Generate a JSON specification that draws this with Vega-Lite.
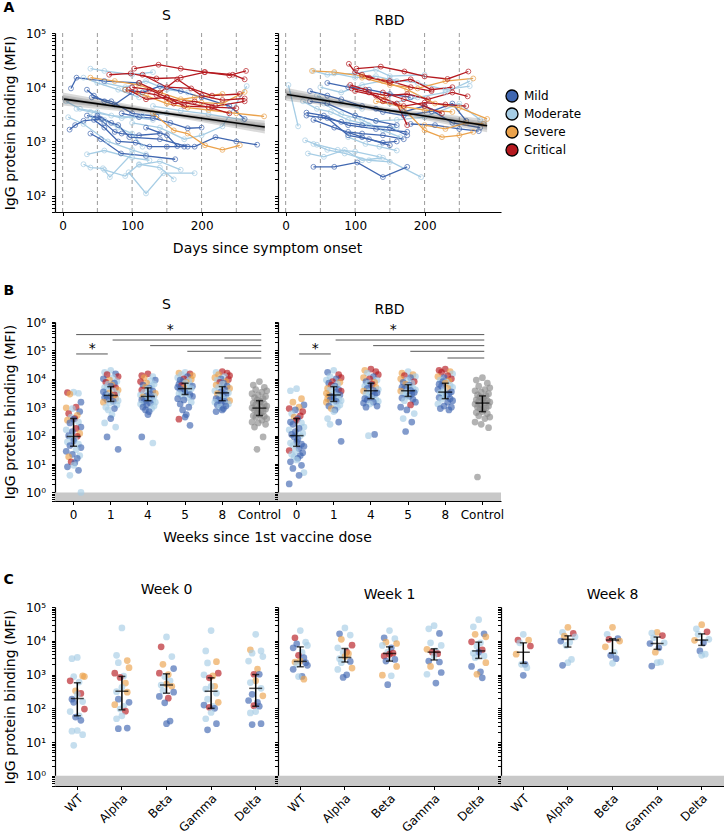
{
"$schema":"https://vega.github.io/schema/vega-lite/v6.json",
"padding":{"left":3,"top":1,"right":0,"bottom":3},
"background":"white",
"config":{
 "font":"DejaVu Sans",
 "view":{"stroke":null},
 "axis":{"labelFont":"DejaVu Sans","titleFont":"DejaVu Sans","labelFontSize":12,"titleFontSize":14,"titleFontWeight":"normal","labelColor":"black","titleColor":"black","domainColor":"black","tickColor":"black","domainWidth":1.2,"tickWidth":1,"tickSize":3.5,"labelPadding":5,"titlePadding":6,"grid":false,"labelOverlap":false,"labelFlush":false,"zindex":1},
 "axisX":{"titlePadding":10},
 "axisY":{"labelPadding":6,"titlePadding":8},
 "title":{"font":"DejaVu Sans","fontSize":14,"fontWeight":"normal","color":"black","offset":4.5}
},
"spacing":28,
"resolve":{"scale":{"xOffset":"independent","fill":"independent","stroke":"independent"}},
"datasets":{
"vl":[{"d":0},{"d":50},{"d":100},{"d":150},{"d":200},{"d":250}],
"lod":[{"lo":0.5,"hi":1}],
"fit":[{"p":"S","d":2,"v":6030},{"p":"S","d":291,"v":1845},{"p":"R","d":2,"v":7345},{"p":"R","d":290,"v":1950}],
"band":[
{"p":"S","k":1,"d":0,"v":4610,"v2":8010},{"p":"S","k":1,"d":145,"v":3027,"v2":3724},{"p":"S","k":1,"d":291,"v":1400,"v2":2432},
{"p":"S","k":2,"d":0,"v":5148,"v2":7171},{"p":"S","k":2,"d":145,"v":3155,"v2":3573},{"p":"S","k":2,"d":291,"v":1563,"v2":2178},
{"p":"S","k":3,"d":0,"v":5594,"v2":6600},{"p":"S","k":3,"d":145,"v":3254,"v2":3463},{"p":"S","k":3,"d":291,"v":1698,"v2":2004},
{"p":"R","k":1,"d":0,"v":5623,"v2":9772},{"p":"R","k":1,"d":145,"v":3428,"v2":4217},{"p":"R","k":1,"d":290,"v":1479,"v2":2570},
{"p":"R","k":2,"d":0,"v":6281,"v2":8750},{"p":"R","k":2,"d":145,"v":3573,"v2":4046},{"p":"R","k":2,"d":290,"v":1652,"v2":2301},
{"p":"R","k":3,"d":0,"v":6823,"v2":8054},{"p":"R","k":3,"d":145,"v":3686,"v2":3923},{"p":"R","k":3,"d":290,"v":1795,"v2":2118}],
"aS":[
{"i":"l1","s":"Mo","d":40,"v":22000},{"i":"l1","s":"Mo","d":60,"v":20000},{"i":"l1","s":"Mo","d":100,"v":17000},{"i":"l1","s":"Mo","d":130,"v":19000},
{"i":"l2","s":"Mo","d":30,"v":380},{"i":"l2","s":"Mo","d":40,"v":330},{"i":"l2","s":"Mo","d":58,"v":320},{"i":"l2","s":"Mo","d":68,"v":220},{"i":"l2","s":"Mo","d":100,"v":600},
{"i":"l3","s":"Mo","d":35,"v":580},{"i":"l3","s":"Mo","d":60,"v":680},{"i":"l3","s":"Mo","d":100,"v":500},{"i":"l3","s":"Mo","d":125,"v":450},
{"i":"l4","s":"Mo","d":40,"v":2800},{"i":"l4","s":"Mo","d":60,"v":2500},{"i":"l4","s":"Mo","d":80,"v":1800},{"i":"l4","s":"Mo","d":100,"v":1400},{"i":"l4","s":"Mo","d":115,"v":800},
{"i":"l5","s":"Mo","d":20,"v":4000},{"i":"l5","s":"Mo","d":40,"v":3500},{"i":"l5","s":"Mo","d":70,"v":3000},{"i":"l5","s":"Mo","d":100,"v":2800},{"i":"l5","s":"Mo","d":130,"v":2500},
{"i":"l6","s":"Mo","d":60,"v":300},{"i":"l6","s":"Mo","d":90,"v":230},{"i":"l6","s":"Mo","d":110,"v":380},{"i":"l6","s":"Mo","d":140,"v":330},{"i":"l6","s":"Mo","d":160,"v":200},
{"i":"l7","s":"Mo","d":95,"v":270},{"i":"l7","s":"Mo","d":120,"v":110},{"i":"l7","s":"Mo","d":145,"v":260},{"i":"l7","s":"Mo","d":190,"v":260},
{"i":"l8","s":"Mo","d":60,"v":12000},{"i":"l8","s":"Mo","d":90,"v":10000},{"i":"l8","s":"Mo","d":120,"v":13000},{"i":"l8","s":"Mo","d":150,"v":9000},{"i":"l8","s":"Mo","d":180,"v":8000},
{"i":"l9","s":"Mo","d":5,"v":5500},{"i":"l9","s":"Mo","d":25,"v":4000},{"i":"l9","s":"Mo","d":50,"v":3500},{"i":"l9","s":"Mo","d":85,"v":2700},{"i":"l9","s":"Mo","d":115,"v":3000},{"i":"l9","s":"Mo","d":150,"v":3300},
{"i":"l10","s":"Mo","d":110,"v":370},{"i":"l10","s":"Mo","d":140,"v":430},{"i":"l10","s":"Mo","d":170,"v":300},
{"i":"l11","s":"Mo","d":100,"v":2200},{"i":"l11","s":"Mo","d":140,"v":1800},{"i":"l11","s":"Mo","d":175,"v":1100},{"i":"l11","s":"Mo","d":200,"v":1300},{"i":"l11","s":"Mo","d":230,"v":1900},{"i":"l11","s":"Mo","d":265,"v":10500},
{"i":"l12","s":"Mo","d":30,"v":15000},{"i":"l12","s":"Mo","d":50,"v":12000},{"i":"l12","s":"Mo","d":80,"v":9000},{"i":"l12","s":"Mo","d":110,"v":6500},
{"i":"l13","s":"Mo","d":8,"v":2800},{"i":"l13","s":"Mo","d":30,"v":2100},{"i":"l13","s":"Mo","d":65,"v":1000},{"i":"l13","s":"Mo","d":100,"v":700},{"i":"l13","s":"Mo","d":120,"v":580},
{"i":"l14","s":"Mo","d":130,"v":4500},{"i":"l14","s":"Mo","d":170,"v":3700},{"i":"l14","s":"Mo","d":210,"v":3200},{"i":"l14","s":"Mo","d":260,"v":2500},
{"i":"m1","s":"Mi","d":10,"v":1650},{"i":"m1","s":"Mi","d":18,"v":2000},{"i":"m1","s":"Mi","d":30,"v":2400},{"i":"m1","s":"Mi","d":55,"v":2600},
{"i":"m2","s":"Mi","d":12,"v":9500},{"i":"m2","s":"Mi","d":20,"v":15000},{"i":"m2","s":"Mi","d":60,"v":13000},{"i":"m2","s":"Mi","d":110,"v":12000},
{"i":"m3","s":"Mi","d":35,"v":9000},{"i":"m3","s":"Mi","d":45,"v":7000},{"i":"m3","s":"Mi","d":60,"v":5500},{"i":"m3","s":"Mi","d":75,"v":4800},{"i":"m3","s":"Mi","d":100,"v":8000},
{"i":"m4","s":"Mi","d":35,"v":3000},{"i":"m4","s":"Mi","d":50,"v":2800},{"i":"m4","s":"Mi","d":60,"v":2200},{"i":"m4","s":"Mi","d":75,"v":1500},{"i":"m4","s":"Mi","d":85,"v":1400},{"i":"m4","s":"Mi","d":110,"v":1300},{"i":"m4","s":"Mi","d":140,"v":1400},
{"i":"m5","s":"Mi","d":45,"v":2500},{"i":"m5","s":"Mi","d":60,"v":1800},{"i":"m5","s":"Mi","d":80,"v":1000},{"i":"m5","s":"Mi","d":105,"v":950},{"i":"m5","s":"Mi","d":125,"v":800},{"i":"m5","s":"Mi","d":150,"v":800},{"i":"m5","s":"Mi","d":175,"v":800},
{"i":"m6","s":"Mi","d":40,"v":1400},{"i":"m6","s":"Mi","d":55,"v":1100},{"i":"m6","s":"Mi","d":84,"v":600},{"i":"m6","s":"Mi","d":120,"v":540},{"i":"m6","s":"Mi","d":162,"v":470},
{"i":"m7","s":"Mi","d":85,"v":3300},{"i":"m7","s":"Mi","d":110,"v":2800},{"i":"m7","s":"Mi","d":130,"v":2700},{"i":"m7","s":"Mi","d":155,"v":2200},{"i":"m7","s":"Mi","d":180,"v":1750},{"i":"m7","s":"Mi","d":200,"v":1800},
{"i":"m8","s":"Mi","d":120,"v":1800},{"i":"m8","s":"Mi","d":150,"v":1300},{"i":"m8","s":"Mi","d":165,"v":820},{"i":"m8","s":"Mi","d":190,"v":800},{"i":"m8","s":"Mi","d":220,"v":1200},{"i":"m8","s":"Mi","d":250,"v":1000},{"i":"m8","s":"Mi","d":280,"v":870},
{"i":"m9","s":"Mi","d":90,"v":9000},{"i":"m9","s":"Mi","d":115,"v":8000},{"i":"m9","s":"Mi","d":140,"v":10500},{"i":"m9","s":"Mi","d":170,"v":8500},{"i":"m9","s":"Mi","d":200,"v":6500},{"i":"m9","s":"Mi","d":240,"v":4500},{"i":"m9","s":"Mi","d":262,"v":2600},
{"i":"m10","s":"Mi","d":42,"v":6500},{"i":"m10","s":"Mi","d":70,"v":5500},{"i":"m10","s":"Mi","d":100,"v":3300},{"i":"m10","s":"Mi","d":135,"v":2900},
{"i":"m11","s":"Mi","d":50,"v":3000},{"i":"m11","s":"Mi","d":70,"v":2200},{"i":"m11","s":"Mi","d":80,"v":2000},{"i":"m11","s":"Mi","d":96,"v":1200},{"i":"m11","s":"Mi","d":140,"v":1100},{"i":"m11","s":"Mi","d":180,"v":800},
{"i":"o1","s":"Se","d":40,"v":15000},{"i":"o1","s":"Se","d":75,"v":13000},{"i":"o1","s":"Se","d":110,"v":11000},{"i":"o1","s":"Se","d":140,"v":8000},{"i":"o1","s":"Se","d":170,"v":6000},{"i":"o1","s":"Se","d":200,"v":5200},{"i":"o1","s":"Se","d":230,"v":5000},{"i":"o1","s":"Se","d":262,"v":8200},
{"i":"o2","s":"Se","d":130,"v":3300},{"i":"o2","s":"Se","d":160,"v":1600},{"i":"o2","s":"Se","d":180,"v":1400},{"i":"o2","s":"Se","d":205,"v":850},{"i":"o2","s":"Se","d":230,"v":700},{"i":"o2","s":"Se","d":255,"v":850},
{"i":"o3","s":"Se","d":90,"v":9000},{"i":"o3","s":"Se","d":120,"v":7000},{"i":"o3","s":"Se","d":150,"v":5000},{"i":"o3","s":"Se","d":180,"v":4200},{"i":"o3","s":"Se","d":210,"v":3800},{"i":"o3","s":"Se","d":250,"v":3300},{"i":"o3","s":"Se","d":290,"v":2900},
{"i":"o4","s":"Se","d":150,"v":5500},{"i":"o4","s":"Se","d":190,"v":6500},{"i":"o4","s":"Se","d":230,"v":7500},
{"i":"c1","s":"Cr","d":67,"v":17000},{"i":"c1","s":"Cr","d":98,"v":18000},{"i":"c1","s":"Cr","d":135,"v":14500},{"i":"c1","s":"Cr","d":170,"v":15000},{"i":"c1","s":"Cr","d":205,"v":19000},{"i":"c1","s":"Cr","d":245,"v":17000},{"i":"c1","s":"Cr","d":262,"v":14000},
{"i":"c2","s":"Cr","d":103,"v":22000},{"i":"c2","s":"Cr","d":138,"v":26000},{"i":"c2","s":"Cr","d":170,"v":22000},{"i":"c2","s":"Cr","d":204,"v":19000},{"i":"c2","s":"Cr","d":240,"v":16500},{"i":"c2","s":"Cr","d":264,"v":20000},
{"i":"c3","s":"Cr","d":100,"v":10000},{"i":"c3","s":"Cr","d":125,"v":9000},{"i":"c3","s":"Cr","d":150,"v":6500},{"i":"c3","s":"Cr","d":175,"v":5200},{"i":"c3","s":"Cr","d":210,"v":4300},{"i":"c3","s":"Cr","d":240,"v":3300},
{"i":"c4","s":"Cr","d":110,"v":12000},{"i":"c4","s":"Cr","d":140,"v":8000},{"i":"c4","s":"Cr","d":165,"v":14000},{"i":"c4","s":"Cr","d":200,"v":7000},{"i":"c4","s":"Cr","d":230,"v":5800},{"i":"c4","s":"Cr","d":262,"v":6200},
{"i":"c5","s":"Cr","d":105,"v":8500},{"i":"c5","s":"Cr","d":135,"v":7200},{"i":"c5","s":"Cr","d":160,"v":5000},{"i":"c5","s":"Cr","d":190,"v":5500},{"i":"c5","s":"Cr","d":220,"v":4500},{"i":"c5","s":"Cr","d":262,"v":5500},
{"i":"c6","s":"Cr","d":115,"v":17000},{"i":"c6","s":"Cr","d":150,"v":10000},{"i":"c6","s":"Cr","d":185,"v":9500},{"i":"c6","s":"Cr","d":215,"v":7000},{"i":"c6","s":"Cr","d":255,"v":7500},
{"i":"c7","s":"Cr","d":95,"v":9000},{"i":"c7","s":"Cr","d":120,"v":6000},{"i":"c7","s":"Cr","d":150,"v":6500},{"i":"c7","s":"Cr","d":175,"v":4500},{"i":"c7","s":"Cr","d":215,"v":4300},{"i":"c7","s":"Cr","d":250,"v":4100}],
"aR":[
{"i":"l1","s":"Mo","d":40,"v":20000},{"i":"l1","s":"Mo","d":60,"v":17000},{"i":"l1","s":"Mo","d":100,"v":18000},{"i":"l1","s":"Mo","d":130,"v":21000},{"i":"l1","s":"Mo","d":150,"v":16000},{"i":"l1","s":"Mo","d":200,"v":17000},
{"i":"l2","s":"Mo","d":4,"v":11000},{"i":"l2","s":"Mo","d":18,"v":1900},
{"i":"l3","s":"Mo","d":28,"v":1050},{"i":"l3","s":"Mo","d":45,"v":870},{"i":"l3","s":"Mo","d":75,"v":700},{"i":"l3","s":"Mo","d":100,"v":650},{"i":"l3","s":"Mo","d":135,"v":520},
{"i":"l4","s":"Mo","d":32,"v":600},{"i":"l4","s":"Mo","d":55,"v":520},{"i":"l4","s":"Mo","d":85,"v":700},{"i":"l4","s":"Mo","d":110,"v":450},{"i":"l4","s":"Mo","d":140,"v":500},{"i":"l4","s":"Mo","d":195,"v":220},
{"i":"l5","s":"Mo","d":50,"v":10000},{"i":"l5","s":"Mo","d":80,"v":8000},{"i":"l5","s":"Mo","d":110,"v":11000},{"i":"l5","s":"Mo","d":150,"v":14000},{"i":"l5","s":"Mo","d":190,"v":12000},{"i":"l5","s":"Mo","d":230,"v":9000},{"i":"l5","s":"Mo","d":265,"v":10500},
{"i":"l6","s":"Mo","d":55,"v":5000},{"i":"l6","s":"Mo","d":80,"v":3200},{"i":"l6","s":"Mo","d":110,"v":2500},{"i":"l6","s":"Mo","d":140,"v":1600},{"i":"l6","s":"Mo","d":165,"v":1200},
{"i":"l7","s":"Mo","d":25,"v":5500},{"i":"l7","s":"Mo","d":45,"v":4000},{"i":"l7","s":"Mo","d":65,"v":3500},{"i":"l7","s":"Mo","d":90,"v":2500},{"i":"l7","s":"Mo","d":120,"v":2000},{"i":"l7","s":"Mo","d":160,"v":1800},
{"i":"l8","s":"Mo","d":90,"v":1200},{"i":"l8","s":"Mo","d":115,"v":900},{"i":"l8","s":"Mo","d":135,"v":800},{"i":"l8","s":"Mo","d":160,"v":680},
{"i":"l9","s":"Mo","d":150,"v":5000},{"i":"l9","s":"Mo","d":190,"v":6500},{"i":"l9","s":"Mo","d":230,"v":8000},{"i":"l9","s":"Mo","d":265,"v":13000},
{"i":"l10","s":"Mo","d":100,"v":3000},{"i":"l10","s":"Mo","d":130,"v":2400},{"i":"l10","s":"Mo","d":160,"v":2500},{"i":"l10","s":"Mo","d":200,"v":2800},{"i":"l10","s":"Mo","d":250,"v":5000},{"i":"l10","s":"Mo","d":280,"v":2500},
{"i":"l11","s":"Mo","d":40,"v":900},{"i":"l11","s":"Mo","d":60,"v":700},{"i":"l11","s":"Mo","d":85,"v":600},{"i":"l11","s":"Mo","d":120,"v":450},{"i":"l11","s":"Mo","d":150,"v":420},
{"i":"l12","s":"Mo","d":70,"v":18000},{"i":"l12","s":"Mo","d":100,"v":15000},{"i":"l12","s":"Mo","d":130,"v":16000},{"i":"l12","s":"Mo","d":160,"v":13000},
{"i":"l13","s":"Mo","d":45,"v":7000},{"i":"l13","s":"Mo","d":60,"v":5500},{"i":"l13","s":"Mo","d":80,"v":5300},{"i":"l13","s":"Mo","d":110,"v":4000},
{"i":"m1","s":"Mi","d":40,"v":340},{"i":"m1","s":"Mi","d":70,"v":340},{"i":"m1","s":"Mi","d":103,"v":410},{"i":"m1","s":"Mi","d":140,"v":220},{"i":"m1","s":"Mi","d":175,"v":340},
{"i":"m2","s":"Mi","d":30,"v":3000},{"i":"m2","s":"Mi","d":60,"v":2700},{"i":"m2","s":"Mi","d":90,"v":1300},{"i":"m2","s":"Mi","d":120,"v":1100},{"i":"m2","s":"Mi","d":140,"v":950},{"i":"m2","s":"Mi","d":160,"v":1000},
{"i":"m3","s":"Mi","d":60,"v":12000},{"i":"m3","s":"Mi","d":90,"v":10000},{"i":"m3","s":"Mi","d":120,"v":9000},{"i":"m3","s":"Mi","d":150,"v":7500},{"i":"m3","s":"Mi","d":180,"v":6500},
{"i":"m4","s":"Mi","d":35,"v":8500},{"i":"m4","s":"Mi","d":60,"v":7000},{"i":"m4","s":"Mi","d":80,"v":6000},{"i":"m4","s":"Mi","d":110,"v":4500},{"i":"m4","s":"Mi","d":140,"v":3500},{"i":"m4","s":"Mi","d":170,"v":3000},{"i":"m4","s":"Mi","d":210,"v":3600},{"i":"m4","s":"Mi","d":240,"v":5000},{"i":"m4","s":"Mi","d":260,"v":2400},
{"i":"m5","s":"Mi","d":30,"v":3400},{"i":"m5","s":"Mi","d":55,"v":3000},{"i":"m5","s":"Mi","d":90,"v":2000},{"i":"m5","s":"Mi","d":130,"v":1700},{"i":"m5","s":"Mi","d":175,"v":1500},
{"i":"m6","s":"Mi","d":40,"v":2500},{"i":"m6","s":"Mi","d":70,"v":1800},{"i":"m6","s":"Mi","d":110,"v":1200},{"i":"m6","s":"Mi","d":150,"v":850},
{"i":"m7","s":"Mi","d":35,"v":5500},{"i":"m7","s":"Mi","d":60,"v":5000},{"i":"m7","s":"Mi","d":100,"v":3000},{"i":"m7","s":"Mi","d":130,"v":2400},{"i":"m7","s":"Mi","d":160,"v":2000},
{"i":"m8","s":"Mi","d":130,"v":4000},{"i":"m8","s":"Mi","d":170,"v":3500},{"i":"m8","s":"Mi","d":200,"v":4500},{"i":"m8","s":"Mi","d":240,"v":2200},{"i":"m8","s":"Mi","d":280,"v":1800},
{"i":"m9","s":"Mi","d":90,"v":1500},{"i":"m9","s":"Mi","d":110,"v":1400},{"i":"m9","s":"Mi","d":140,"v":1300},{"i":"m9","s":"Mi","d":170,"v":1100},
{"i":"m10","s":"Mi","d":180,"v":2100},{"i":"m10","s":"Mi","d":215,"v":2000},{"i":"m10","s":"Mi","d":250,"v":1700},{"i":"m10","s":"Mi","d":278,"v":1550},
{"i":"m11","s":"Mi","d":50,"v":2800},{"i":"m11","s":"Mi","d":80,"v":2300},{"i":"m11","s":"Mi","d":110,"v":2000},{"i":"m11","s":"Mi","d":150,"v":1800},{"i":"m11","s":"Mi","d":175,"v":1300},
{"i":"o1","s":"Se","d":38,"v":20000},{"i":"o1","s":"Se","d":70,"v":19000},{"i":"o1","s":"Se","d":110,"v":16000},{"i":"o1","s":"Se","d":140,"v":13000},{"i":"o1","s":"Se","d":175,"v":9000},{"i":"o1","s":"Se","d":215,"v":5000},{"i":"o1","s":"Se","d":250,"v":4200},{"i":"o1","s":"Se","d":290,"v":2600},
{"i":"o2","s":"Se","d":140,"v":6500},{"i":"o2","s":"Se","d":170,"v":4000},{"i":"o2","s":"Se","d":200,"v":1600},{"i":"o2","s":"Se","d":225,"v":1200},{"i":"o2","s":"Se","d":250,"v":1300},{"i":"o2","s":"Se","d":270,"v":1500},
{"i":"o3","s":"Se","d":110,"v":15000},{"i":"o3","s":"Se","d":150,"v":11000},{"i":"o3","s":"Se","d":190,"v":9500},{"i":"o3","s":"Se","d":230,"v":13000},{"i":"o3","s":"Se","d":270,"v":14500},
{"i":"o4","s":"Se","d":130,"v":5500},{"i":"o4","s":"Se","d":165,"v":4500},{"i":"o4","s":"Se","d":200,"v":3800},{"i":"o4","s":"Se","d":240,"v":3500},
{"i":"o5","s":"Se","d":200,"v":2000},{"i":"o5","s":"Se","d":230,"v":1700},{"i":"o5","s":"Se","d":260,"v":2200},{"i":"o5","s":"Se","d":285,"v":2100},
{"i":"c1","s":"Cr","d":91,"v":27000},{"i":"c1","s":"Cr","d":100,"v":19000},{"i":"c1","s":"Cr","d":120,"v":15000},{"i":"c1","s":"Cr","d":150,"v":13000},{"i":"c1","s":"Cr","d":180,"v":10000},{"i":"c1","s":"Cr","d":210,"v":8500},
{"i":"c2","s":"Cr","d":102,"v":22000},{"i":"c2","s":"Cr","d":137,"v":24000},{"i":"c2","s":"Cr","d":171,"v":19500},{"i":"c2","s":"Cr","d":200,"v":15800},{"i":"c2","s":"Cr","d":233,"v":14200},{"i":"c2","s":"Cr","d":263,"v":19500},
{"i":"c3","s":"Cr","d":95,"v":9500},{"i":"c3","s":"Cr","d":120,"v":8000},{"i":"c3","s":"Cr","d":145,"v":7000},{"i":"c3","s":"Cr","d":175,"v":7500},{"i":"c3","s":"Cr","d":205,"v":6000},{"i":"c3","s":"Cr","d":240,"v":8000},{"i":"c3","s":"Cr","d":262,"v":6800},
{"i":"c4","s":"Cr","d":93,"v":11000},{"i":"c4","s":"Cr","d":115,"v":9000},{"i":"c4","s":"Cr","d":140,"v":5500},{"i":"c4","s":"Cr","d":170,"v":4500},{"i":"c4","s":"Cr","d":200,"v":5200},{"i":"c4","s":"Cr","d":230,"v":4800},{"i":"c4","s":"Cr","d":260,"v":4500},
{"i":"c5","s":"Cr","d":110,"v":17000},{"i":"c5","s":"Cr","d":150,"v":12000},{"i":"c5","s":"Cr","d":180,"v":14000},{"i":"c5","s":"Cr","d":210,"v":9000},{"i":"c5","s":"Cr","d":240,"v":10000},
{"i":"c6","s":"Cr","d":100,"v":8500},{"i":"c6","s":"Cr","d":130,"v":7000},{"i":"c6","s":"Cr","d":160,"v":5000},{"i":"c6","s":"Cr","d":175,"v":2000},
{"i":"c7","s":"Cr","d":140,"v":8000},{"i":"c7","s":"Cr","d":170,"v":6000},{"i":"c7","s":"Cr","d":200,"v":4500},{"i":"c7","s":"Cr","d":225,"v":3300}],
"bS":[
{"w":"0","s":"Mo","v":3400,"i":6},{"w":"0","s":"Cr","v":3300,"i":1},{"w":"0","s":"Mo","v":3100,"i":10},{"w":"0","s":"Se","v":2900,"i":3},{"w":"0","s":"Mi","v":1500,"i":12},{"w":"0","s":"Cr","v":1000,"i":8},{"w":"0","s":"Se","v":950,"i":0},{"w":"0","s":"Mo","v":900,"i":5},{"w":"0","s":"Mi","v":700,"i":11},{"w":"0","s":"Cr","v":600,"i":2},{"w":"0","s":"Se","v":520,"i":9},{"w":"0","s":"Mo","v":450,"i":4},{"w":"0","s":"Cr","v":400,"i":7},
{"w":"0","s":"Mi","v":380,"i":6},{"w":"0","s":"Se","v":350,"i":1},{"w":"0","s":"Mo","v":300,"i":10},{"w":"0","s":"Mi","v":280,"i":3},{"w":"0","s":"Mi","v":200,"i":12},{"w":"0","s":"Cr","v":180,"i":8},{"w":"0","s":"Mo","v":160,"i":0},{"w":"0","s":"Mi","v":140,"i":5},{"w":"0","s":"Se","v":120,"i":11},{"w":"0","s":"Mi","v":100,"i":2},{"w":"0","s":"Cr","v":95,"i":9},{"w":"0","s":"Mo","v":90,"i":4},{"w":"0","s":"Mo","v":75,"i":7},
{"w":"0","s":"Mi","v":65,"i":6},{"w":"0","s":"Mo","v":60,"i":1},{"w":"0","s":"Mo","v":50,"i":10},{"w":"0","s":"Mi","v":45,"i":3},{"w":"0","s":"Mi","v":38,"i":12},{"w":"0","s":"Mo","v":32,"i":8},{"w":"0","s":"Mi","v":28,"i":0},{"w":"0","s":"Mi","v":22,"i":5},{"w":"0","s":"Mo","v":20,"i":11},{"w":"0","s":"Se","v":18,"i":2},{"w":"0","s":"Mi","v":16,"i":9},{"w":"0","s":"Cr","v":12,"i":4},{"w":"0","s":"Mi","v":11,"i":7},
{"w":"0","s":"Mo","v":9,"i":6},{"w":"0","s":"Mi","v":8,"i":1},{"w":"0","s":"Mi","v":6,"i":10},{"w":"0","s":"Mo","v":4,"i":3},{"w":"0","s":"Mo","v":1,"i":12},
{"w":"1","s":"Mo","v":20000,"i":6},{"w":"1","s":"Mo","v":17000,"i":1},{"w":"1","s":"Mi","v":15000,"i":10},{"w":"1","s":"Cr","v":14000,"i":3},{"w":"1","s":"Cr","v":12000,"i":12},{"w":"1","s":"Mo","v":11000,"i":8},{"w":"1","s":"Mi","v":10000,"i":0},{"w":"1","s":"Se","v":9000,"i":5},{"w":"1","s":"Mo","v":8000,"i":11},{"w":"1","s":"Cr","v":7500,"i":2},{"w":"1","s":"Mi","v":7000,"i":9},{"w":"1","s":"Mo","v":6500,"i":4},{"w":"1","s":"Se","v":6000,"i":7},
{"w":"1","s":"Mi","v":5500,"i":6},{"w":"1","s":"Mo","v":5000,"i":1},{"w":"1","s":"Cr","v":4800,"i":10},{"w":"1","s":"Mo","v":4500,"i":3},{"w":"1","s":"Se","v":4000,"i":12},{"w":"1","s":"Mo","v":3800,"i":8},{"w":"1","s":"Mi","v":3500,"i":0},{"w":"1","s":"Se","v":3200,"i":5},{"w":"1","s":"Mo","v":3000,"i":11},{"w":"1","s":"Mi","v":2800,"i":2},{"w":"1","s":"Cr","v":2700,"i":9},{"w":"1","s":"Mo","v":2600,"i":4},{"w":"1","s":"Se","v":2500,"i":7},
{"w":"1","s":"Mi","v":2400,"i":6},{"w":"1","s":"Mi","v":2200,"i":1},{"w":"1","s":"Se","v":2000,"i":10},{"w":"1","s":"Mi","v":1800,"i":3},{"w":"1","s":"Mo","v":1700,"i":12},{"w":"1","s":"Mi","v":1600,"i":8},{"w":"1","s":"Se","v":1500,"i":0},{"w":"1","s":"Mo","v":1400,"i":5},{"w":"1","s":"Mo","v":1200,"i":11},{"w":"1","s":"Mo","v":1000,"i":2},{"w":"1","s":"Mi","v":900,"i":9},{"w":"1","s":"Mo","v":800,"i":4},{"w":"1","s":"Mo","v":550,"i":7},
{"w":"1","s":"Mi","v":400,"i":6},{"w":"1","s":"Mo","v":280,"i":1},{"w":"1","s":"Mo","v":200,"i":10},{"w":"1","s":"Mi","v":90,"i":3},{"w":"1","s":"Mi","v":33,"i":12},
{"w":"4","s":"Cr","v":15000,"i":6},{"w":"4","s":"Cr","v":13000,"i":1},{"w":"4","s":"Mo","v":12000,"i":10},{"w":"4","s":"Se","v":11000,"i":3},{"w":"4","s":"Mi","v":9000,"i":12},{"w":"4","s":"Mo","v":8500,"i":8},{"w":"4","s":"Cr","v":8000,"i":0},{"w":"4","s":"Se","v":7000,"i":5},{"w":"4","s":"Mo","v":6500,"i":11},{"w":"4","s":"Mi","v":6000,"i":2},{"w":"4","s":"Mo","v":5500,"i":9},{"w":"4","s":"Se","v":5000,"i":4},{"w":"4","s":"Mi","v":4700,"i":7},
{"w":"4","s":"Mo","v":4400,"i":6},{"w":"4","s":"Cr","v":4000,"i":1},{"w":"4","s":"Mi","v":3700,"i":10},{"w":"4","s":"Mo","v":3400,"i":3},{"w":"4","s":"Se","v":3100,"i":12},{"w":"4","s":"Mi","v":2900,"i":8},{"w":"4","s":"Mo","v":2700,"i":0},{"w":"4","s":"Mi","v":2500,"i":5},{"w":"4","s":"Mo","v":2400,"i":11},{"w":"4","s":"Se","v":2300,"i":2},{"w":"4","s":"Mi","v":2200,"i":9},{"w":"4","s":"Mo","v":2100,"i":4},{"w":"4","s":"Mi","v":2000,"i":7},
{"w":"4","s":"Mo","v":1900,"i":6},{"w":"4","s":"Mi","v":1800,"i":1},{"w":"4","s":"Mo","v":1700,"i":10},{"w":"4","s":"Mi","v":1600,"i":3},{"w":"4","s":"Mo","v":1500,"i":12},{"w":"4","s":"Mi","v":1400,"i":8},{"w":"4","s":"Mo","v":1300,"i":0},{"w":"4","s":"Mi","v":1200,"i":5},{"w":"4","s":"Mo","v":1100,"i":11},{"w":"4","s":"Mi","v":1000,"i":2},{"w":"4","s":"Mo","v":900,"i":9},{"w":"4","s":"Mi","v":800,"i":4},{"w":"4","s":"Mi","v":700,"i":7},
{"w":"4","s":"Mi","v":550,"i":6},{"w":"4","s":"Mi","v":90,"i":1},{"w":"4","s":"Mo","v":55,"i":10},
{"w":"5","s":"Mo","v":17000,"i":6},{"w":"5","s":"Se","v":16000,"i":1},{"w":"5","s":"Cr","v":15000,"i":10},{"w":"5","s":"Mo","v":14000,"i":3},{"w":"5","s":"Se","v":13000,"i":12},{"w":"5","s":"Mi","v":12000,"i":8},{"w":"5","s":"Mo","v":11000,"i":0},{"w":"5","s":"Cr","v":10000,"i":5},{"w":"5","s":"Se","v":9500,"i":11},{"w":"5","s":"Mi","v":9000,"i":2},{"w":"5","s":"Mo","v":8500,"i":9},{"w":"5","s":"Mi","v":8000,"i":4},{"w":"5","s":"Se","v":7500,"i":7},
{"w":"5","s":"Mo","v":7000,"i":6},{"w":"5","s":"Mi","v":6500,"i":1},{"w":"5","s":"Mo","v":6000,"i":10},{"w":"5","s":"Cr","v":5800,"i":3},{"w":"5","s":"Mi","v":5500,"i":12},{"w":"5","s":"Mo","v":5200,"i":8},{"w":"5","s":"Mi","v":5000,"i":0},{"w":"5","s":"Se","v":4700,"i":5},{"w":"5","s":"Mo","v":4500,"i":11},{"w":"5","s":"Mi","v":4300,"i":2},{"w":"5","s":"Mo","v":4000,"i":9},{"w":"5","s":"Mi","v":3800,"i":4},{"w":"5","s":"Mo","v":3500,"i":7},
{"w":"5","s":"Mi","v":3300,"i":6},{"w":"5","s":"Mo","v":3000,"i":1},{"w":"5","s":"Mi","v":2800,"i":10},{"w":"5","s":"Mo","v":2600,"i":3},{"w":"5","s":"Mi","v":2400,"i":12},{"w":"5","s":"Mo","v":2200,"i":8},{"w":"5","s":"Mi","v":2000,"i":0},{"w":"5","s":"Mi","v":1800,"i":5},{"w":"5","s":"Mo","v":1500,"i":11},{"w":"5","s":"Mi","v":1300,"i":2},{"w":"5","s":"Mi","v":1000,"i":9},{"w":"5","s":"Mi","v":800,"i":4},{"w":"5","s":"Mi","v":550,"i":7},
{"w":"5","s":"Mi","v":450,"i":6},{"w":"5","s":"Cr","v":380,"i":1},{"w":"5","s":"Mi","v":230,"i":10},
{"w":"8","s":"Cr","v":18000,"i":6},{"w":"8","s":"Mo","v":17000,"i":1},{"w":"8","s":"Cr","v":16000,"i":10},{"w":"8","s":"Se","v":14000,"i":3},{"w":"8","s":"Cr","v":13000,"i":12},{"w":"8","s":"Mo","v":12000,"i":8},{"w":"8","s":"Se","v":11000,"i":0},{"w":"8","s":"Mi","v":10000,"i":5},{"w":"8","s":"Cr","v":9500,"i":11},{"w":"8","s":"Mo","v":9000,"i":2},{"w":"8","s":"Se","v":8000,"i":9},{"w":"8","s":"Cr","v":7500,"i":4},{"w":"8","s":"Mi","v":7000,"i":7},
{"w":"8","s":"Mo","v":6500,"i":6},{"w":"8","s":"Se","v":6000,"i":1},{"w":"8","s":"Mi","v":5500,"i":10},{"w":"8","s":"Mo","v":5000,"i":3},{"w":"8","s":"Se","v":4600,"i":12},{"w":"8","s":"Mi","v":4200,"i":8},{"w":"8","s":"Mo","v":3800,"i":0},{"w":"8","s":"Mi","v":3500,"i":5},{"w":"8","s":"Mo","v":3200,"i":11},{"w":"8","s":"Se","v":3000,"i":2},{"w":"8","s":"Mi","v":2800,"i":9},{"w":"8","s":"Mo","v":2600,"i":4},{"w":"8","s":"Mi","v":2400,"i":7},
{"w":"8","s":"Mo","v":2200,"i":6},{"w":"8","s":"Mi","v":2000,"i":1},{"w":"8","s":"Mo","v":1900,"i":10},{"w":"8","s":"Mi","v":1800,"i":3},{"w":"8","s":"Se","v":1700,"i":12},{"w":"8","s":"Mi","v":1600,"i":8},{"w":"8","s":"Mo","v":1500,"i":0},{"w":"8","s":"Mi","v":1400,"i":5},{"w":"8","s":"Mo","v":1300,"i":11},{"w":"8","s":"Mi","v":1200,"i":2},{"w":"8","s":"Mi","v":1100,"i":9},{"w":"8","s":"Mo","v":1000,"i":4},{"w":"8","s":"Mi","v":900,"i":7},
{"w":"8","s":"Mi","v":800,"i":6},{"w":"8","s":"Mi","v":700,"i":1},
{"w":"Control","s":"Ct","v":8000,"i":6},{"w":"Control","s":"Ct","v":6000,"i":1},{"w":"Control","s":"Ct","v":5000,"i":10},{"w":"Control","s":"Ct","v":4200,"i":3},{"w":"Control","s":"Ct","v":3800,"i":12},{"w":"Control","s":"Ct","v":3400,"i":8},{"w":"Control","s":"Ct","v":3000,"i":0},{"w":"Control","s":"Ct","v":2700,"i":5},{"w":"Control","s":"Ct","v":2400,"i":11},{"w":"Control","s":"Ct","v":2200,"i":2},{"w":"Control","s":"Ct","v":2000,"i":9},{"w":"Control","s":"Ct","v":1800,"i":4},{"w":"Control","s":"Ct","v":1600,"i":7},
{"w":"Control","s":"Ct","v":1500,"i":6},{"w":"Control","s":"Ct","v":1400,"i":1},{"w":"Control","s":"Ct","v":1300,"i":10},{"w":"Control","s":"Ct","v":1200,"i":3},{"w":"Control","s":"Ct","v":1100,"i":12},{"w":"Control","s":"Ct","v":1000,"i":8},{"w":"Control","s":"Ct","v":950,"i":0},{"w":"Control","s":"Ct","v":900,"i":5},{"w":"Control","s":"Ct","v":850,"i":11},{"w":"Control","s":"Ct","v":800,"i":2},{"w":"Control","s":"Ct","v":700,"i":9},{"w":"Control","s":"Ct","v":650,"i":4},{"w":"Control","s":"Ct","v":600,"i":7},
{"w":"Control","s":"Ct","v":550,"i":6},{"w":"Control","s":"Ct","v":500,"i":1},{"w":"Control","s":"Ct","v":480,"i":10},{"w":"Control","s":"Ct","v":450,"i":3},{"w":"Control","s":"Ct","v":400,"i":12},{"w":"Control","s":"Ct","v":350,"i":8},{"w":"Control","s":"Ct","v":300,"i":0},{"w":"Control","s":"Ct","v":280,"i":5},{"w":"Control","s":"Ct","v":250,"i":11},{"w":"Control","s":"Ct","v":200,"i":2},{"w":"Control","s":"Ct","v":90,"i":9},{"w":"Control","s":"Ct","v":33,"i":4}],
"bR":[
{"w":"0","s":"Mo","v":4500,"i":6},{"w":"0","s":"Mo","v":3800,"i":1},{"w":"0","s":"Se","v":2000,"i":10},{"w":"0","s":"Se","v":1500,"i":3},{"w":"0","s":"Mi","v":1200,"i":12},{"w":"0","s":"Se","v":1000,"i":8},{"w":"0","s":"Cr","v":900,"i":0},{"w":"0","s":"Mi","v":800,"i":5},{"w":"0","s":"Cr","v":700,"i":11},{"w":"0","s":"Mo","v":600,"i":2},{"w":"0","s":"Cr","v":500,"i":9},{"w":"0","s":"Se","v":450,"i":4},{"w":"0","s":"Mi","v":400,"i":7},
{"w":"0","s":"Cr","v":350,"i":6},{"w":"0","s":"Mi","v":300,"i":1},{"w":"0","s":"Mo","v":280,"i":10},{"w":"0","s":"Mi","v":250,"i":3},{"w":"0","s":"Mo","v":200,"i":12},{"w":"0","s":"Mi","v":180,"i":8},{"w":"0","s":"Mo","v":160,"i":0},{"w":"0","s":"Mi","v":140,"i":5},{"w":"0","s":"Mo","v":120,"i":11},{"w":"0","s":"Mi","v":110,"i":2},{"w":"0","s":"Mo","v":100,"i":9},{"w":"0","s":"Mi","v":90,"i":4},{"w":"0","s":"Mi","v":75,"i":7},
{"w":"0","s":"Mi","v":60,"i":6},{"w":"0","s":"Mo","v":55,"i":1},{"w":"0","s":"Mi","v":50,"i":10},{"w":"0","s":"Mo","v":45,"i":3},{"w":"0","s":"Mi","v":42,"i":12},{"w":"0","s":"Mi","v":35,"i":8},{"w":"0","s":"Cr","v":30,"i":0},{"w":"0","s":"Mo","v":28,"i":5},{"w":"0","s":"Mi","v":25,"i":11},{"w":"0","s":"Mo","v":22,"i":2},{"w":"0","s":"Mi","v":20,"i":9},{"w":"0","s":"Mo","v":18,"i":4},{"w":"0","s":"Mi","v":16,"i":7},
{"w":"0","s":"Mo","v":14,"i":6},{"w":"0","s":"Mi","v":12,"i":1},{"w":"0","s":"Mi","v":9,"i":10},{"w":"0","s":"Mi","v":7,"i":3},{"w":"0","s":"Mo","v":5,"i":12},{"w":"0","s":"Mi","v":4,"i":8},{"w":"0","s":"Mi","v":2,"i":0},
{"w":"1","s":"Mo","v":20000,"i":6},{"w":"1","s":"Mi","v":17000,"i":1},{"w":"1","s":"Cr","v":14000,"i":10},{"w":"1","s":"Mo","v":12000,"i":3},{"w":"1","s":"Cr","v":11000,"i":12},{"w":"1","s":"Mi","v":10000,"i":8},{"w":"1","s":"Mo","v":9000,"i":0},{"w":"1","s":"Cr","v":8000,"i":5},{"w":"1","s":"Se","v":7500,"i":11},{"w":"1","s":"Mi","v":7000,"i":2},{"w":"1","s":"Mo","v":6500,"i":9},{"w":"1","s":"Cr","v":6000,"i":4},{"w":"1","s":"Mi","v":5500,"i":7},
{"w":"1","s":"Mo","v":5000,"i":6},{"w":"1","s":"Se","v":4600,"i":1},{"w":"1","s":"Mi","v":4200,"i":10},{"w":"1","s":"Mo","v":4000,"i":3},{"w":"1","s":"Cr","v":3700,"i":12},{"w":"1","s":"Mi","v":3400,"i":8},{"w":"1","s":"Se","v":3100,"i":0},{"w":"1","s":"Mo","v":2900,"i":5},{"w":"1","s":"Mi","v":2700,"i":11},{"w":"1","s":"Se","v":2600,"i":2},{"w":"1","s":"Mo","v":2500,"i":9},{"w":"1","s":"Mi","v":2400,"i":4},{"w":"1","s":"Mo","v":2200,"i":7},
{"w":"1","s":"Mi","v":2100,"i":6},{"w":"1","s":"Se","v":2000,"i":1},{"w":"1","s":"Mo","v":1900,"i":10},{"w":"1","s":"Mi","v":1800,"i":3},{"w":"1","s":"Mo","v":1700,"i":12},{"w":"1","s":"Mi","v":1600,"i":8},{"w":"1","s":"Se","v":1500,"i":0},{"w":"1","s":"Mo","v":1400,"i":5},{"w":"1","s":"Mo","v":1200,"i":11},{"w":"1","s":"Mi","v":1100,"i":2},{"w":"1","s":"Mo","v":1000,"i":9},{"w":"1","s":"Se","v":900,"i":4},{"w":"1","s":"Mi","v":800,"i":7},
{"w":"1","s":"Mo","v":700,"i":6},{"w":"1","s":"Mo","v":400,"i":1},{"w":"1","s":"Mi","v":300,"i":10},{"w":"1","s":"Mo","v":250,"i":3},{"w":"1","s":"Mi","v":63,"i":12},
{"w":"4","s":"Cr","v":22000,"i":6},{"w":"4","s":"Se","v":20000,"i":1},{"w":"4","s":"Cr","v":18000,"i":10},{"w":"4","s":"Mo","v":16000,"i":3},{"w":"4","s":"Cr","v":14000,"i":12},{"w":"4","s":"Mi","v":12000,"i":8},{"w":"4","s":"Se","v":11000,"i":0},{"w":"4","s":"Cr","v":10000,"i":5},{"w":"4","s":"Mo","v":9000,"i":11},{"w":"4","s":"Mi","v":8000,"i":2},{"w":"4","s":"Se","v":7500,"i":9},{"w":"4","s":"Mo","v":7000,"i":4},{"w":"4","s":"Cr","v":6500,"i":7},
{"w":"4","s":"Mi","v":6000,"i":6},{"w":"4","s":"Mo","v":5500,"i":1},{"w":"4","s":"Se","v":5000,"i":10},{"w":"4","s":"Mi","v":4600,"i":3},{"w":"4","s":"Mo","v":4200,"i":12},{"w":"4","s":"Mi","v":3900,"i":8},{"w":"4","s":"Se","v":3700,"i":0},{"w":"4","s":"Mo","v":3500,"i":5},{"w":"4","s":"Mi","v":3200,"i":11},{"w":"4","s":"Mo","v":3000,"i":2},{"w":"4","s":"Mi","v":2800,"i":9},{"w":"4","s":"Mo","v":2600,"i":4},{"w":"4","s":"Mi","v":2400,"i":7},
{"w":"4","s":"Mo","v":2200,"i":6},{"w":"4","s":"Mi","v":2000,"i":1},{"w":"4","s":"Mo","v":1900,"i":10},{"w":"4","s":"Mi","v":1800,"i":3},{"w":"4","s":"Mo","v":1600,"i":12},{"w":"4","s":"Mi","v":1500,"i":8},{"w":"4","s":"Mi","v":1400,"i":0},{"w":"4","s":"Mo","v":1300,"i":5},{"w":"4","s":"Mi","v":1100,"i":11},{"w":"4","s":"Mi","v":1000,"i":2},{"w":"4","s":"Mi","v":110,"i":9},{"w":"4","s":"Mo","v":100,"i":4},
{"w":"5","s":"Mo","v":18000,"i":6},{"w":"5","s":"Se","v":16000,"i":1},{"w":"5","s":"Se","v":14000,"i":10},{"w":"5","s":"Cr","v":13000,"i":3},{"w":"5","s":"Mo","v":12000,"i":12},{"w":"5","s":"Mi","v":11000,"i":8},{"w":"5","s":"Se","v":10000,"i":0},{"w":"5","s":"Mo","v":9000,"i":5},{"w":"5","s":"Cr","v":8000,"i":11},{"w":"5","s":"Mi","v":7500,"i":2},{"w":"5","s":"Mo","v":7000,"i":9},{"w":"5","s":"Se","v":6500,"i":4},{"w":"5","s":"Mi","v":6000,"i":7},
{"w":"5","s":"Mo","v":5500,"i":6},{"w":"5","s":"Mi","v":5000,"i":1},{"w":"5","s":"Mo","v":4700,"i":10},{"w":"5","s":"Mi","v":4400,"i":3},{"w":"5","s":"Mo","v":4100,"i":12},{"w":"5","s":"Mi","v":3900,"i":8},{"w":"5","s":"Se","v":3700,"i":0},{"w":"5","s":"Mo","v":3500,"i":5},{"w":"5","s":"Mi","v":3300,"i":11},{"w":"5","s":"Mo","v":3100,"i":2},{"w":"5","s":"Mi","v":2900,"i":9},{"w":"5","s":"Mo","v":2700,"i":4},{"w":"5","s":"Mi","v":2500,"i":7},
{"w":"5","s":"Mo","v":2300,"i":6},{"w":"5","s":"Mi","v":2100,"i":1},{"w":"5","s":"Mi","v":1900,"i":10},{"w":"5","s":"Mo","v":1700,"i":3},{"w":"5","s":"Mi","v":1500,"i":12},{"w":"5","s":"Cr","v":1200,"i":8},{"w":"5","s":"Mi","v":1000,"i":0},{"w":"5","s":"Mi","v":800,"i":5},{"w":"5","s":"Mo","v":600,"i":11},{"w":"5","s":"Mo","v":400,"i":2},{"w":"5","s":"Mi","v":300,"i":9},{"w":"5","s":"Mi","v":140,"i":4},
{"w":"8","s":"Cr","v":22000,"i":6},{"w":"8","s":"Cr","v":20000,"i":1},{"w":"8","s":"Se","v":18000,"i":10},{"w":"8","s":"Cr","v":17000,"i":3},{"w":"8","s":"Mo","v":15000,"i":12},{"w":"8","s":"Cr","v":13000,"i":8},{"w":"8","s":"Se","v":12000,"i":0},{"w":"8","s":"Mi","v":11000,"i":5},{"w":"8","s":"Cr","v":10000,"i":11},{"w":"8","s":"Mo","v":9000,"i":2},{"w":"8","s":"Se","v":8500,"i":9},{"w":"8","s":"Mi","v":8000,"i":4},{"w":"8","s":"Mo","v":7500,"i":7},
{"w":"8","s":"Se","v":7000,"i":6},{"w":"8","s":"Mi","v":6500,"i":1},{"w":"8","s":"Mo","v":6000,"i":10},{"w":"8","s":"Mi","v":5500,"i":3},{"w":"8","s":"Mo","v":5000,"i":12},{"w":"8","s":"Se","v":4600,"i":8},{"w":"8","s":"Mi","v":4200,"i":0},{"w":"8","s":"Mo","v":3800,"i":5},{"w":"8","s":"Mi","v":3500,"i":11},{"w":"8","s":"Mo","v":3200,"i":2},{"w":"8","s":"Mi","v":3000,"i":9},{"w":"8","s":"Mo","v":2800,"i":4},{"w":"8","s":"Mi","v":2600,"i":7},
{"w":"8","s":"Mo","v":2400,"i":6},{"w":"8","s":"Mi","v":2200,"i":1},{"w":"8","s":"Mi","v":2000,"i":10},{"w":"8","s":"Mo","v":1900,"i":3},{"w":"8","s":"Mi","v":1700,"i":12},{"w":"8","s":"Mi","v":1500,"i":8},{"w":"8","s":"Mo","v":1300,"i":0},{"w":"8","s":"Mi","v":1100,"i":5},{"w":"8","s":"Mi","v":1000,"i":11},{"w":"8","s":"Mi","v":900,"i":2},{"w":"8","s":"Mi","v":800,"i":9},
{"w":"Control","s":"Ct","v":11000,"i":6},{"w":"Control","s":"Ct","v":9000,"i":1},{"w":"Control","s":"Ct","v":7000,"i":10},{"w":"Control","s":"Ct","v":5500,"i":3},{"w":"Control","s":"Ct","v":4800,"i":12},{"w":"Control","s":"Ct","v":4200,"i":8},{"w":"Control","s":"Ct","v":3800,"i":0},{"w":"Control","s":"Ct","v":3400,"i":5},{"w":"Control","s":"Ct","v":3000,"i":11},{"w":"Control","s":"Ct","v":2700,"i":2},{"w":"Control","s":"Ct","v":2500,"i":9},{"w":"Control","s":"Ct","v":2300,"i":4},{"w":"Control","s":"Ct","v":2100,"i":7},
{"w":"Control","s":"Ct","v":1900,"i":6},{"w":"Control","s":"Ct","v":1800,"i":1},{"w":"Control","s":"Ct","v":1700,"i":10},{"w":"Control","s":"Ct","v":1600,"i":3},{"w":"Control","s":"Ct","v":1500,"i":12},{"w":"Control","s":"Ct","v":1400,"i":8},{"w":"Control","s":"Ct","v":1300,"i":0},{"w":"Control","s":"Ct","v":1200,"i":5},{"w":"Control","s":"Ct","v":1100,"i":11},{"w":"Control","s":"Ct","v":1000,"i":2},{"w":"Control","s":"Ct","v":950,"i":9},{"w":"Control","s":"Ct","v":900,"i":4},{"w":"Control","s":"Ct","v":800,"i":7},
{"w":"Control","s":"Ct","v":700,"i":6},{"w":"Control","s":"Ct","v":650,"i":1},{"w":"Control","s":"Ct","v":600,"i":10},{"w":"Control","s":"Ct","v":500,"i":3},{"w":"Control","s":"Ct","v":450,"i":12},{"w":"Control","s":"Ct","v":400,"i":8},{"w":"Control","s":"Ct","v":300,"i":0},{"w":"Control","s":"Ct","v":250,"i":5},{"w":"Control","s":"Ct","v":190,"i":11},{"w":"Control","s":"Ct","v":3.5,"i":2}],
"bsum":[
{"p":"S","w":"0","m":93,"q1":42,"q3":400},{"p":"S","w":"1","m":2600,"q1":1600,"q3":5300},{"p":"S","w":"4","m":2400,"q1":1700,"q3":4800},{"p":"S","w":"5","m":4500,"q1":2800,"q3":7000},{"p":"S","w":"8","m":3200,"q1":1700,"q3":5300},{"p":"S","w":"Control","m":930,"q1":510,"q3":1700},
{"p":"R","w":"0","m":100,"q1":42,"q3":400},{"p":"R","w":"1","m":2700,"q1":1600,"q3":5300},{"p":"R","w":"4","m":3800,"q1":2000,"q3":7000},{"p":"R","w":"5","m":3800,"q1":2400,"q3":6200},{"p":"R","w":"8","m":3400,"q1":2000,"q3":7000},{"p":"R","w":"Control","m":1400,"q1":700,"q3":2500}],
"sig":[{"a":0.07,"b":5.05,"y":360000},{"a":1.05,"b":5.05,"y":232000},{"a":2.06,"b":5.05,"y":147000},{"a":3.06,"b":5.05,"y":93000},{"a":4.06,"b":5.05,"y":54000},{"a":0.07,"b":0.92,"y":75000}],
"star":[{"a":2.6,"y":370000,"t":"*"},{"a":0.5,"y":80000,"t":"*"}],
"c0":[
{"x":"WT","s":"Mo","v":3200,"i":4},{"x":"WT","s":"Mo","v":2950,"i":1},{"x":"WT","s":"Se","v":910,"i":7},{"x":"WT","s":"Mo","v":870,"i":2},{"x":"WT","s":"Se","v":870,"i":8},{"x":"WT","s":"Cr","v":650,"i":0},{"x":"WT","s":"Mo","v":600,"i":5},{"x":"WT","s":"Se","v":330,"i":3},{"x":"WT","s":"Cr","v":275,"i":6},{"x":"WT","s":"Mo","v":260,"i":4},{"x":"WT","s":"Mi","v":186,"i":1},{"x":"WT","s":"Mo","v":158,"i":7},{"x":"WT","s":"Mi","v":150,"i":2},{"x":"WT","s":"Cr","v":95,"i":8},{"x":"WT","s":"Mo","v":80,"i":0},{"x":"WT","s":"Mo","v":60,"i":5},{"x":"WT","s":"Mi","v":55,"i":3},{"x":"WT","s":"Mi","v":44,"i":6},{"x":"WT","s":"Mo","v":22,"i":4},{"x":"WT","s":"Mo","v":21,"i":1},{"x":"WT","s":"Mo","v":16.5,"i":7},{"x":"WT","s":"Mo","v":8,"i":2},
{"x":"Alpha","s":"Mo","v":24000,"i":4},{"x":"Alpha","s":"Mo","v":3700,"i":1},{"x":"Alpha","s":"Se","v":2600,"i":7},{"x":"Alpha","s":"Mo","v":2250,"i":2},{"x":"Alpha","s":"Se","v":1600,"i":8},{"x":"Alpha","s":"Cr","v":1100,"i":0},{"x":"Alpha","s":"Mo","v":900,"i":5},{"x":"Alpha","s":"Cr","v":820,"i":3},{"x":"Alpha","s":"Se","v":560,"i":6},{"x":"Alpha","s":"Mo","v":420,"i":4},{"x":"Alpha","s":"Mo","v":310,"i":1},{"x":"Alpha","s":"Se","v":300,"i":7},{"x":"Alpha","s":"Mi","v":186,"i":2},{"x":"Alpha","s":"Mi","v":150,"i":8},{"x":"Alpha","s":"Se","v":128,"i":0},{"x":"Alpha","s":"Mo","v":115,"i":5},{"x":"Alpha","s":"Mo","v":95,"i":3},{"x":"Alpha","s":"Cr","v":82,"i":6},{"x":"Alpha","s":"Mo","v":60,"i":4},{"x":"Alpha","s":"Mo","v":49,"i":1},{"x":"Alpha","s":"Mi","v":26,"i":7},{"x":"Alpha","s":"Mi","v":25,"i":2},
{"x":"Beta","s":"Mo","v":13000,"i":4},{"x":"Beta","s":"Cr","v":6600,"i":1},{"x":"Beta","s":"Mo","v":3400,"i":7},{"x":"Beta","s":"Se","v":2000,"i":2},{"x":"Beta","s":"Mi","v":1500,"i":8},{"x":"Beta","s":"Cr","v":1100,"i":0},{"x":"Beta","s":"Se","v":1000,"i":5},{"x":"Beta","s":"Mo","v":870,"i":3},{"x":"Beta","s":"Mo","v":650,"i":6},{"x":"Beta","s":"Se","v":520,"i":4},{"x":"Beta","s":"Mo","v":490,"i":1},{"x":"Beta","s":"Se","v":450,"i":7},{"x":"Beta","s":"Mo","v":330,"i":2},{"x":"Beta","s":"Mi","v":300,"i":8},{"x":"Beta","s":"Mi","v":225,"i":0},{"x":"Beta","s":"Cr","v":200,"i":5},{"x":"Beta","s":"Mi","v":145,"i":3},{"x":"Beta","s":"Mi","v":42,"i":6},{"x":"Beta","s":"Mi","v":35,"i":4},
{"x":"Gamma","s":"Mo","v":20000,"i":4},{"x":"Gamma","s":"Mo","v":5000,"i":1},{"x":"Gamma","s":"Se","v":2400,"i":7},{"x":"Gamma","s":"Mo","v":2200,"i":2},{"x":"Gamma","s":"Cr","v":1100,"i":8},{"x":"Gamma","s":"Mo","v":980,"i":0},{"x":"Gamma","s":"Se","v":910,"i":5},{"x":"Gamma","s":"Cr","v":800,"i":3},{"x":"Gamma","s":"Se","v":450,"i":6},{"x":"Gamma","s":"Mo","v":450,"i":4},{"x":"Gamma","s":"Mo","v":370,"i":1},{"x":"Gamma","s":"Mo","v":280,"i":7},{"x":"Gamma","s":"Mo","v":186,"i":2},{"x":"Gamma","s":"Se","v":150,"i":8},{"x":"Gamma","s":"Mi","v":125,"i":0},{"x":"Gamma","s":"Mo","v":115,"i":5},{"x":"Gamma","s":"Cr","v":107,"i":3},{"x":"Gamma","s":"Mi","v":100,"i":6},{"x":"Gamma","s":"Mo","v":75,"i":4},{"x":"Gamma","s":"Mo","v":49,"i":1},{"x":"Gamma","s":"Mi","v":35,"i":7},{"x":"Gamma","s":"Mi","v":23,"i":2},
{"x":"Delta","s":"Mo","v":15500,"i":4},{"x":"Delta","s":"Se","v":5400,"i":1},{"x":"Delta","s":"Mo","v":5000,"i":7},{"x":"Delta","s":"Mo","v":4300,"i":2},{"x":"Delta","s":"Mo","v":3400,"i":8},{"x":"Delta","s":"Mo","v":2500,"i":0},{"x":"Delta","s":"Se","v":1450,"i":5},{"x":"Delta","s":"Cr","v":1020,"i":3},{"x":"Delta","s":"Mi","v":1020,"i":6},{"x":"Delta","s":"Se","v":650,"i":4},{"x":"Delta","s":"Mo","v":580,"i":1},{"x":"Delta","s":"Mo","v":390,"i":7},{"x":"Delta","s":"Mi","v":260,"i":2},{"x":"Delta","s":"Se","v":235,"i":8},{"x":"Delta","s":"Mi","v":170,"i":0},{"x":"Delta","s":"Mi","v":150,"i":5},{"x":"Delta","s":"Cr","v":120,"i":3},{"x":"Delta","s":"Mi","v":115,"i":6},{"x":"Delta","s":"Mo","v":80,"i":4},{"x":"Delta","s":"Mo","v":73,"i":1},{"x":"Delta","s":"Mi","v":35,"i":7},{"x":"Delta","s":"Mi","v":33,"i":2}],
"c1":[
{"x":"WT","s":"Mo","v":20000,"i":4},{"x":"WT","s":"Cr","v":12300,"i":1},{"x":"WT","s":"Mo","v":9100,"i":7},{"x":"WT","s":"Mi","v":8100,"i":2},{"x":"WT","s":"Mo","v":7300,"i":8},{"x":"WT","s":"Mi","v":6200,"i":0},{"x":"WT","s":"Mo","v":4500,"i":5},{"x":"WT","s":"Cr","v":3700,"i":3},{"x":"WT","s":"Mi","v":3150,"i":6},{"x":"WT","s":"Se","v":2500,"i":4},{"x":"WT","s":"Se","v":2350,"i":1},{"x":"WT","s":"Mi","v":2250,"i":7},{"x":"WT","s":"Mo","v":2000,"i":2},{"x":"WT","s":"Mi","v":1870,"i":8},{"x":"WT","s":"Mi","v":1430,"i":0},{"x":"WT","s":"Mi","v":880,"i":5},{"x":"WT","s":"Mo","v":870,"i":3},{"x":"WT","s":"Se","v":730,"i":6},
{"x":"Alpha","s":"Mo","v":24000,"i":4},{"x":"Alpha","s":"Mi","v":16000,"i":1},{"x":"Alpha","s":"Mo","v":14700,"i":7},{"x":"Alpha","s":"Se","v":11000,"i":2},{"x":"Alpha","s":"Cr","v":7400,"i":8},{"x":"Alpha","s":"Mo","v":6200,"i":0},{"x":"Alpha","s":"Cr","v":4600,"i":5},{"x":"Alpha","s":"Mo","v":4500,"i":3},{"x":"Alpha","s":"Se","v":4150,"i":6},{"x":"Alpha","s":"Se","v":3400,"i":4},{"x":"Alpha","s":"Mo","v":2950,"i":1},{"x":"Alpha","s":"Mi","v":2450,"i":7},{"x":"Alpha","s":"Mo","v":2250,"i":2},{"x":"Alpha","s":"Se","v":1550,"i":8},{"x":"Alpha","s":"Mo","v":1420,"i":0},{"x":"Alpha","s":"Mi","v":980,"i":5},{"x":"Alpha","s":"Mi","v":820,"i":3},
{"x":"Beta","s":"Mo","v":20000,"i":4},{"x":"Beta","s":"Mi","v":12300,"i":1},{"x":"Beta","s":"Mo","v":11500,"i":7},{"x":"Beta","s":"Se","v":9100,"i":2},{"x":"Beta","s":"Se","v":8300,"i":8},{"x":"Beta","s":"Mo","v":7300,"i":0},{"x":"Beta","s":"Mi","v":6200,"i":5},{"x":"Beta","s":"Mo","v":4600,"i":3},{"x":"Beta","s":"Cr","v":4300,"i":6},{"x":"Beta","s":"Cr","v":4000,"i":4},{"x":"Beta","s":"Cr","v":3550,"i":1},{"x":"Beta","s":"Mi","v":2800,"i":7},{"x":"Beta","s":"Mi","v":2500,"i":2},{"x":"Beta","s":"Se","v":1740,"i":8},{"x":"Beta","s":"Se","v":960,"i":0},{"x":"Beta","s":"Mo","v":920,"i":5},{"x":"Beta","s":"Mi","v":500,"i":3},
{"x":"Gamma","s":"Mo","v":28000,"i":4},{"x":"Gamma","s":"Mo","v":22500,"i":1},{"x":"Gamma","s":"Mi","v":16500,"i":7},{"x":"Gamma","s":"Mo","v":8700,"i":2},{"x":"Gamma","s":"Mo","v":7300,"i":8},{"x":"Gamma","s":"Se","v":5600,"i":0},{"x":"Gamma","s":"Mo","v":5000,"i":5},{"x":"Gamma","s":"Cr","v":4600,"i":3},{"x":"Gamma","s":"Cr","v":4150,"i":6},{"x":"Gamma","s":"Mo","v":3550,"i":4},{"x":"Gamma","s":"Mi","v":2500,"i":1},{"x":"Gamma","s":"Mi","v":2350,"i":7},{"x":"Gamma","s":"Se","v":1740,"i":2},{"x":"Gamma","s":"Mi","v":1150,"i":8},{"x":"Gamma","s":"Mo","v":1020,"i":0},{"x":"Gamma","s":"Mi","v":560,"i":5},
{"x":"Delta","s":"Mo","v":42000,"i":4},{"x":"Delta","s":"Mo","v":26000,"i":1},{"x":"Delta","s":"Mi","v":16000,"i":7},{"x":"Delta","s":"Se","v":15500,"i":2},{"x":"Delta","s":"Se","v":13100,"i":8},{"x":"Delta","s":"Cr","v":9300,"i":0},{"x":"Delta","s":"Mo","v":8700,"i":5},{"x":"Delta","s":"Mo","v":6900,"i":3},{"x":"Delta","s":"Cr","v":5400,"i":6},{"x":"Delta","s":"Mi","v":4600,"i":4},{"x":"Delta","s":"Mo","v":4300,"i":1},{"x":"Delta","s":"Mo","v":3550,"i":7},{"x":"Delta","s":"Mo","v":3150,"i":2},{"x":"Delta","s":"Se","v":2250,"i":8},{"x":"Delta","s":"Mi","v":1740,"i":0},{"x":"Delta","s":"Mi","v":1200,"i":5},{"x":"Delta","s":"Se","v":1020,"i":3},{"x":"Delta","s":"Mi","v":800,"i":6}],
"c8":[
{"x":"WT","s":"Mo","v":15500,"i":4},{"x":"WT","s":"Cr","v":10500,"i":1},{"x":"WT","s":"Se","v":10500,"i":7},{"x":"WT","s":"Mo","v":8700,"i":2},{"x":"WT","s":"Cr","v":7000,"i":8},{"x":"WT","s":"Se","v":4000,"i":0},{"x":"WT","s":"Mi","v":2000,"i":5},{"x":"WT","s":"Mo","v":2000,"i":3},{"x":"WT","s":"Mo","v":1600,"i":6},{"x":"WT","s":"Mi","v":950,"i":4},
{"x":"Alpha","s":"Se","v":25000,"i":4},{"x":"Alpha","s":"Mo","v":17800,"i":1},{"x":"Alpha","s":"Cr","v":16500,"i":7},{"x":"Alpha","s":"Se","v":13700,"i":2},{"x":"Alpha","s":"Mo","v":13100,"i":8},{"x":"Alpha","s":"Mi","v":9800,"i":0},{"x":"Alpha","s":"Mo","v":9100,"i":5},{"x":"Alpha","s":"Mo","v":7300,"i":3},{"x":"Alpha","s":"Mo","v":2800,"i":6},{"x":"Alpha","s":"Mo","v":2250,"i":4},{"x":"Alpha","s":"Mi","v":1870,"i":1},
{"x":"Beta","s":"Se","v":25000,"i":4},{"x":"Beta","s":"Mo","v":15500,"i":1},{"x":"Beta","s":"Mi","v":11500,"i":7},{"x":"Beta","s":"Cr","v":11000,"i":2},{"x":"Beta","s":"Se","v":9800,"i":8},{"x":"Beta","s":"Se","v":6600,"i":0},{"x":"Beta","s":"Mo","v":4500,"i":5},{"x":"Beta","s":"Mi","v":3700,"i":3},{"x":"Beta","s":"Mi","v":2950,"i":6},{"x":"Beta","s":"Mo","v":2150,"i":4},
{"x":"Gamma","s":"Se","v":17800,"i":4},{"x":"Gamma","s":"Mo","v":17000,"i":1},{"x":"Gamma","s":"Cr","v":14300,"i":7},{"x":"Gamma","s":"Mo","v":12300,"i":2},{"x":"Gamma","s":"Mo","v":8700,"i":8},{"x":"Gamma","s":"Mi","v":8300,"i":0},{"x":"Gamma","s":"Mi","v":6200,"i":5},{"x":"Gamma","s":"Se","v":4600,"i":3},{"x":"Gamma","s":"Mo","v":2350,"i":6},{"x":"Gamma","s":"Mo","v":2250,"i":4},{"x":"Gamma","s":"Mi","v":1780,"i":1},
{"x":"Delta","s":"Se","v":30000,"i":4},{"x":"Delta","s":"Mo","v":22500,"i":1},{"x":"Delta","s":"Cr","v":18400,"i":7},{"x":"Delta","s":"Mo","v":15500,"i":2},{"x":"Delta","s":"Mo","v":11000,"i":8},{"x":"Delta","s":"Se","v":10300,"i":0},{"x":"Delta","s":"Mi","v":8700,"i":5},{"x":"Delta","s":"Mi","v":5000,"i":3},{"x":"Delta","s":"Mo","v":4000,"i":6},{"x":"Delta","s":"Mo","v":3700,"i":4}],
"csum":[
{"p":"0","x":"WT","m":195,"q1":60,"q3":570},{"p":"0","x":"Alpha","m":320,"q1":90,"q3":880},{"p":"0","x":"Beta","m":490,"q1":280,"q3":1050},{"p":"0","x":"Gamma","m":320,"q1":100,"q3":800},{"p":"0","x":"Delta","m":390,"q1":115,"q3":1000},
{"p":"1","x":"WT","m":2450,"q1":1700,"q3":6600},{"p":"1","x":"Alpha","m":3200,"q1":2350,"q3":5900},{"p":"1","x":"Beta","m":4200,"q1":2500,"q3":6600},{"p":"1","x":"Gamma","m":4600,"q1":2700,"q3":5800},{"p":"1","x":"Delta","m":5000,"q1":3000,"q3":9100},
{"p":"8","x":"WT","m":4600,"q1":2150,"q3":8700},{"p":"8","x":"Alpha","m":11000,"q1":6500,"q3":14000},{"p":"8","x":"Beta","m":10500,"q1":4300,"q3":11500},{"p":"8","x":"Gamma","m":8300,"q1":5600,"q3":12900},{"p":"8","x":"Delta","m":10500,"q1":7300,"q3":16000}]
},
"vconcat":[
{"title":{"text":"A","anchor":"start","frame":"bounds","fontWeight":"bold","fontSize":14,"offset":-6.5},
 "hconcat":[
 {"width":223,"height":179,"title":"S",
  "layer":[
   {"data":{"name":"vl"},"mark":{"type":"rule","color":"#808080","strokeDash":[4,3],"strokeWidth":0.8},"encoding":{"x":{"field":"d","type":"quantitative","scale":{"domain":[-11,310],"nice":false,"zero":false},"axis":{"values":[0,100,200],"title":"Days since symptom onset","titleX":212}}}},
   {"data":{"name":"aS"},"mark":{"type":"line","strokeWidth":1.3},"encoding":{"x":{"field":"d","type":"quantitative"},"y":{"field":"v","type":"quantitative","scale":{"type":"log","domain":[50,100000],"nice":false},"axis":{"values":[50,60,70,80,90,100,200,300,400,500,600,700,800,900,1000,2000,3000,4000,5000,6000,7000,8000,9000,10000,20000,30000,40000,50000,60000,70000,80000,90000,100000],"labelExpr":"abs(log(datum.value)/LN10-round(log(datum.value)/LN10))<0.01?'10'+['⁰','¹','²','³','⁴','⁵','⁶'][round(log(datum.value)/LN10)]:''","title":"IgG protein binding (MFI)"}},"detail":{"field":"i"},"stroke":{"field":"s","type":"nominal","scale":{"domain":["Cr","Se","Mo","Mi"],"range":["#b5191f","#eba24b","#a6cde5","#3f66b0"]},"legend":null}}},
   {"data":{"name":"aS"},"mark":{"type":"point","filled":false,"size":24,"strokeWidth":1},"encoding":{"x":{"field":"d","type":"quantitative"},"y":{"field":"v","type":"quantitative"},"stroke":{"field":"s","type":"nominal","legend":null}}},
   {"data":{"name":"band"},"transform":[{"filter":"datum.p=='S'"}],"mark":{"type":"area","color":"#444444","opacity":0.2},"encoding":{"x":{"field":"d","type":"quantitative"},"y":{"field":"v","type":"quantitative"},"y2":{"field":"v2"},"detail":{"field":"k"}}},
   {"data":{"name":"fit"},"transform":[{"filter":"datum.p=='S'"}],"mark":{"type":"line","color":"black","strokeWidth":1.6},"encoding":{"x":{"field":"d","type":"quantitative"},"y":{"field":"v","type":"quantitative"}}}
  ]},
 {"width":223,"height":179,"title":"RBD",
  "layer":[
   {"data":{"name":"vl"},"mark":{"type":"rule","color":"#808080","strokeDash":[4,3],"strokeWidth":0.8},"encoding":{"x":{"field":"d","type":"quantitative","scale":{"domain":[-11,310],"nice":false,"zero":false},"axis":{"values":[0,100,200],"title":null}}}},
   {"data":{"name":"aR"},"mark":{"type":"line","strokeWidth":1.3},"encoding":{"x":{"field":"d","type":"quantitative"},"y":{"field":"v","type":"quantitative","scale":{"type":"log","domain":[50,100000],"nice":false},"axis":{"values":[50,60,70,80,90,100,200,300,400,500,600,700,800,900,1000,2000,3000,4000,5000,6000,7000,8000,9000,10000,20000,30000,40000,50000,60000,70000,80000,90000,100000],"labels":false,"title":null}},"detail":{"field":"i"},"stroke":{"field":"s","type":"nominal","legend":null}}},
   {"data":{"name":"aR"},"mark":{"type":"point","filled":false,"size":24,"strokeWidth":1},"encoding":{"x":{"field":"d","type":"quantitative"},"y":{"field":"v","type":"quantitative"},"stroke":{"field":"s","type":"nominal","legend":null}}},
   {"data":{"name":"band"},"transform":[{"filter":"datum.p=='R'"}],"mark":{"type":"area","color":"#444444","opacity":0.2},"encoding":{"x":{"field":"d","type":"quantitative"},"y":{"field":"v","type":"quantitative"},"y2":{"field":"v2"},"detail":{"field":"k"}}},
   {"data":{"name":"fit"},"transform":[{"filter":"datum.p=='R'"}],"mark":{"type":"line","color":"black","strokeWidth":1.6},"encoding":{"x":{"field":"d","type":"quantitative"},"y":{"field":"v","type":"quantitative"}}},
   {"data":{"name":"aR"},"mark":{"type":"point","filled":true,"opacity":0,"size":1},"encoding":{"x":{"field":"d","type":"quantitative"},"y":{"field":"v","type":"quantitative"},"fill":{"field":"s","type":"nominal","scale":{"domain":["Mi","Mo","Se","Cr"],"range":["#3f66b0","#a6cde5","#eba24b","#b5191f"]},"legend":{"title":null,"orient":"none","legendX":450,"legendY":56,"symbolType":"circle","symbolSize":145,"symbolStrokeColor":"black","symbolStrokeWidth":1.3,"symbolOpacity":1,"labelFontSize":12,"labelFont":"DejaVu Sans","labelColor":"black","rowPadding":0,"labelOffset":5,"labelExpr":"datum.label=='Mi'?'Mild':datum.label=='Mo'?'Moderate':datum.label=='Se'?'Severe':'Critical'"}}}}
  ]}
 ],"spacing":0,"bounds":"flush"},
{"title":{"text":"B","anchor":"start","frame":"bounds","fontWeight":"bold","fontSize":14,"offset":-0.8},
 "hconcat":[
 {"width":223,"height":179,"title":"S",
  "layer":[
   {"layer":[
     {"data":{"name":"lod"},"mark":{"type":"rect","color":"#c8c8c8"},"encoding":{"x":{"value":0},"x2":{"value":"width"},"y":{"field":"lo","type":"quantitative","scale":{"type":"log","domain":[0.5,1000000],"nice":false},"axis":{"values":[0.5,0.6,0.7,0.8,0.9,1,2,3,4,5,6,7,8,9,10,20,30,40,50,60,70,80,90,100,200,300,400,500,600,700,800,900,1000,2000,3000,4000,5000,6000,7000,8000,9000,10000,20000,30000,40000,50000,60000,70000,80000,90000,100000,200000,300000,400000,500000,600000,700000,800000,900000,1000000],"labelExpr":"abs(log(datum.value)/LN10-round(log(datum.value)/LN10))<0.01?'10'+['⁰','¹','²','³','⁴','⁵','⁶'][round(log(datum.value)/LN10)]:''","title":"IgG protein binding (MFI)"}},"y2":{"field":"hi"}}},
     {"data":{"name":"bS"},"transform":[{"filter":"datum.s!='Ct'"}],"mark":{"type":"point","filled":true,"size":45,"opacity":0.65},"encoding":{"x":{"field":"w","type":"nominal","scale":{"type":"band","domain":["0","1","4","5","8","Control"],"paddingInner":0.57,"paddingOuter":0.285},"axis":{"labelAngle":0,"title":"Weeks since 1st vaccine dose","titleX":212}},"xOffset":{"field":"i","type":"nominal"},"y":{"field":"v","type":"quantitative"},"fill":{"field":"s","type":"nominal","scale":{"domain":["Mi","Mo","Se","Cr"],"range":["#3f66b0","#a6cde5","#eba24b","#b5191f"]},"legend":null}}},
     {"data":{"name":"bS"},"transform":[{"filter":"datum.s=='Ct'"}],"mark":{"type":"point","filled":true,"size":45,"opacity":0.65,"color":"#8a8a8a"},"encoding":{"x":{"field":"w","type":"nominal"},"xOffset":{"field":"i","type":"nominal"},"y":{"field":"v","type":"quantitative"}}},
     {"data":{"name":"bsum"},"transform":[{"filter":"datum.p=='S'"}],"layer":[
       {"mark":{"type":"rule","color":"black","strokeWidth":1.5},"encoding":{"x":{"field":"w","type":"nominal"},"y":{"field":"q1","type":"quantitative"},"y2":{"field":"q3"}}},
       {"mark":{"type":"tick","color":"black","thickness":1.5,"size":7},"encoding":{"x":{"field":"w","type":"nominal"},"y":{"field":"q1","type":"quantitative"}}},
       {"mark":{"type":"tick","color":"black","thickness":1.5,"size":7},"encoding":{"x":{"field":"w","type":"nominal"},"y":{"field":"q3","type":"quantitative"}}},
       {"mark":{"type":"tick","color":"black","thickness":1.5,"size":14},"encoding":{"x":{"field":"w","type":"nominal"},"y":{"field":"m","type":"quantitative"}}}
     ]}
   ]},
   {"data":{"name":"sig"},"layer":[
     {"mark":{"type":"rule","color":"#555555","strokeWidth":1},"encoding":{"x":{"field":"a","type":"quantitative","scale":{"domain":[-0.5,5.5],"nice":false,"zero":false},"axis":null},"x2":{"field":"b"},"y":{"field":"y","type":"quantitative"}}},
     {"data":{"name":"star"},"mark":{"type":"text","fontSize":14,"baseline":"alphabetic","color":"black","fill":"black"},"encoding":{"x":{"field":"a","type":"quantitative"},"y":{"field":"y","type":"quantitative"},"text":{"field":"t"}}}
   ]}
  ],
  "resolve":{"scale":{"x":"independent"},"axis":{"x":"independent"}}},
 {"width":223,"height":179,"title":"RBD",
  "layer":[
   {"layer":[
     {"data":{"name":"lod"},"mark":{"type":"rect","color":"#c8c8c8"},"encoding":{"x":{"value":0},"x2":{"value":"width"},"y":{"field":"lo","type":"quantitative","scale":{"type":"log","domain":[0.5,1000000],"nice":false},"axis":{"values":[0.5,0.6,0.7,0.8,0.9,1,2,3,4,5,6,7,8,9,10,20,30,40,50,60,70,80,90,100,200,300,400,500,600,700,800,900,1000,2000,3000,4000,5000,6000,7000,8000,9000,10000,20000,30000,40000,50000,60000,70000,80000,90000,100000,200000,300000,400000,500000,600000,700000,800000,900000,1000000],"labels":false,"title":null}},"y2":{"field":"hi"}}},
     {"data":{"name":"bR"},"transform":[{"filter":"datum.s!='Ct'"}],"mark":{"type":"point","filled":true,"size":45,"opacity":0.65},"encoding":{"x":{"field":"w","type":"nominal","scale":{"type":"band","domain":["0","1","4","5","8","Control"],"paddingInner":0.57,"paddingOuter":0.285},"axis":{"labelAngle":0,"title":null}},"xOffset":{"field":"i","type":"nominal"},"y":{"field":"v","type":"quantitative"},"fill":{"field":"s","type":"nominal","legend":null}}},
     {"data":{"name":"bR"},"transform":[{"filter":"datum.s=='Ct'"}],"mark":{"type":"point","filled":true,"size":45,"opacity":0.65,"color":"#8a8a8a"},"encoding":{"x":{"field":"w","type":"nominal"},"xOffset":{"field":"i","type":"nominal"},"y":{"field":"v","type":"quantitative"}}},
     {"data":{"name":"bsum"},"transform":[{"filter":"datum.p=='R'"}],"layer":[
       {"mark":{"type":"rule","color":"black","strokeWidth":1.5},"encoding":{"x":{"field":"w","type":"nominal"},"y":{"field":"q1","type":"quantitative"},"y2":{"field":"q3"}}},
       {"mark":{"type":"tick","color":"black","thickness":1.5,"size":7},"encoding":{"x":{"field":"w","type":"nominal"},"y":{"field":"q1","type":"quantitative"}}},
       {"mark":{"type":"tick","color":"black","thickness":1.5,"size":7},"encoding":{"x":{"field":"w","type":"nominal"},"y":{"field":"q3","type":"quantitative"}}},
       {"mark":{"type":"tick","color":"black","thickness":1.5,"size":14},"encoding":{"x":{"field":"w","type":"nominal"},"y":{"field":"m","type":"quantitative"}}}
     ]}
   ]},
   {"data":{"name":"sig"},"layer":[
     {"mark":{"type":"rule","color":"#555555","strokeWidth":1},"encoding":{"x":{"field":"a","type":"quantitative","scale":{"domain":[-0.5,5.5],"nice":false,"zero":false},"axis":null},"x2":{"field":"b"},"y":{"field":"y","type":"quantitative"}}},
     {"data":{"name":"star"},"mark":{"type":"text","fontSize":14,"baseline":"alphabetic","color":"black","fill":"black"},"encoding":{"x":{"field":"a","type":"quantitative"},"y":{"field":"y","type":"quantitative"},"text":{"field":"t"}}}
   ]}
  ],
  "resolve":{"scale":{"x":"independent"},"axis":{"x":"independent"}}}
 ],"spacing":0,"bounds":"flush"},
{"title":{"text":"C","anchor":"start","frame":"bounds","fontWeight":"bold","fontSize":14,"offset":-4.9},
 "hconcat":[
 {"width":223,"height":179,"title":"Week 0",
  "layer":[
   {"data":{"name":"lod"},"mark":{"type":"rect","color":"#c8c8c8"},"encoding":{"x":{"value":0},"x2":{"value":"width"},"y":{"field":"lo","type":"quantitative","scale":{"type":"log","domain":[0.5,100000],"nice":false},"axis":{"values":[0.5,0.6,0.7,0.8,0.9,1,2,3,4,5,6,7,8,9,10,20,30,40,50,60,70,80,90,100,200,300,400,500,600,700,800,900,1000,2000,3000,4000,5000,6000,7000,8000,9000,10000,20000,30000,40000,50000,60000,70000,80000,90000,100000],"labelExpr":"abs(log(datum.value)/LN10-round(log(datum.value)/LN10))<0.01?'10'+['⁰','¹','²','³','⁴','⁵','⁶'][round(log(datum.value)/LN10)]:''","title":"IgG protein binding (MFI)"}},"y2":{"field":"hi"}}},
   {"data":{"name":"c0"},"mark":{"type":"point","filled":true,"size":45,"opacity":0.65},"encoding":{"x":{"field":"x","type":"nominal","scale":{"type":"band","domain":["WT","Alpha","Beta","Gamma","Delta"],"paddingInner":0.64,"paddingOuter":0.32},"axis":{"labelAngle":-45,"title":null,"labelPadding":3}},"xOffset":{"field":"i","type":"nominal"},"y":{"field":"v","type":"quantitative"},"fill":{"field":"s","type":"nominal","scale":{"domain":["Mi","Mo","Se","Cr"],"range":["#3f66b0","#a6cde5","#eba24b","#b5191f"]},"legend":null}}},
   {"data":{"name":"csum"},"transform":[{"filter":"datum.p=='0'"}],"layer":[
     {"mark":{"type":"rule","color":"black","strokeWidth":1.5},"encoding":{"x":{"field":"x","type":"nominal"},"y":{"field":"q1","type":"quantitative"},"y2":{"field":"q3"}}},
     {"mark":{"type":"tick","color":"black","thickness":1.5,"size":7},"encoding":{"x":{"field":"x","type":"nominal"},"y":{"field":"q1","type":"quantitative"}}},
     {"mark":{"type":"tick","color":"black","thickness":1.5,"size":7},"encoding":{"x":{"field":"x","type":"nominal"},"y":{"field":"q3","type":"quantitative"}}},
     {"mark":{"type":"tick","color":"black","thickness":1.5,"size":13},"encoding":{"x":{"field":"x","type":"nominal"},"y":{"field":"m","type":"quantitative"}}}
   ]}
  ]},
 {"width":223,"height":179,"title":"Week 1",
  "layer":[
   {"data":{"name":"lod"},"mark":{"type":"rect","color":"#c8c8c8"},"encoding":{"x":{"value":0},"x2":{"value":"width"},"y":{"field":"lo","type":"quantitative","scale":{"type":"log","domain":[0.5,100000],"nice":false},"axis":{"values":[0.5,0.6,0.7,0.8,0.9,1,2,3,4,5,6,7,8,9,10,20,30,40,50,60,70,80,90,100,200,300,400,500,600,700,800,900,1000,2000,3000,4000,5000,6000,7000,8000,9000,10000,20000,30000,40000,50000,60000,70000,80000,90000,100000],"labels":false,"title":null}},"y2":{"field":"hi"}}},
   {"data":{"name":"c1"},"mark":{"type":"point","filled":true,"size":45,"opacity":0.65},"encoding":{"x":{"field":"x","type":"nominal","scale":{"type":"band","domain":["WT","Alpha","Beta","Gamma","Delta"],"paddingInner":0.64,"paddingOuter":0.32},"axis":{"labelAngle":-45,"title":null,"labelPadding":3}},"xOffset":{"field":"i","type":"nominal"},"y":{"field":"v","type":"quantitative"},"fill":{"field":"s","type":"nominal","legend":null}}},
   {"data":{"name":"csum"},"transform":[{"filter":"datum.p=='1'"}],"layer":[
     {"mark":{"type":"rule","color":"black","strokeWidth":1.5},"encoding":{"x":{"field":"x","type":"nominal"},"y":{"field":"q1","type":"quantitative"},"y2":{"field":"q3"}}},
     {"mark":{"type":"tick","color":"black","thickness":1.5,"size":7},"encoding":{"x":{"field":"x","type":"nominal"},"y":{"field":"q1","type":"quantitative"}}},
     {"mark":{"type":"tick","color":"black","thickness":1.5,"size":7},"encoding":{"x":{"field":"x","type":"nominal"},"y":{"field":"q3","type":"quantitative"}}},
     {"mark":{"type":"tick","color":"black","thickness":1.5,"size":13},"encoding":{"x":{"field":"x","type":"nominal"},"y":{"field":"m","type":"quantitative"}}}
   ]}
  ]},
 {"width":223,"height":179,"title":"Week 8",
  "layer":[
   {"data":{"name":"lod"},"mark":{"type":"rect","color":"#c8c8c8"},"encoding":{"x":{"value":0},"x2":{"value":"width"},"y":{"field":"lo","type":"quantitative","scale":{"type":"log","domain":[0.5,100000],"nice":false},"axis":{"values":[0.5,0.6,0.7,0.8,0.9,1,2,3,4,5,6,7,8,9,10,20,30,40,50,60,70,80,90,100,200,300,400,500,600,700,800,900,1000,2000,3000,4000,5000,6000,7000,8000,9000,10000,20000,30000,40000,50000,60000,70000,80000,90000,100000],"labels":false,"title":null}},"y2":{"field":"hi"}}},
   {"data":{"name":"c8"},"mark":{"type":"point","filled":true,"size":45,"opacity":0.65},"encoding":{"x":{"field":"x","type":"nominal","scale":{"type":"band","domain":["WT","Alpha","Beta","Gamma","Delta"],"paddingInner":0.64,"paddingOuter":0.32},"axis":{"labelAngle":-45,"title":null,"labelPadding":3}},"xOffset":{"field":"i","type":"nominal"},"y":{"field":"v","type":"quantitative"},"fill":{"field":"s","type":"nominal","legend":null}}},
   {"data":{"name":"csum"},"transform":[{"filter":"datum.p=='8'"}],"layer":[
     {"mark":{"type":"rule","color":"black","strokeWidth":1.5},"encoding":{"x":{"field":"x","type":"nominal"},"y":{"field":"q1","type":"quantitative"},"y2":{"field":"q3"}}},
     {"mark":{"type":"tick","color":"black","thickness":1.5,"size":7},"encoding":{"x":{"field":"x","type":"nominal"},"y":{"field":"q1","type":"quantitative"}}},
     {"mark":{"type":"tick","color":"black","thickness":1.5,"size":7},"encoding":{"x":{"field":"x","type":"nominal"},"y":{"field":"q3","type":"quantitative"}}},
     {"mark":{"type":"tick","color":"black","thickness":1.5,"size":13},"encoding":{"x":{"field":"x","type":"nominal"},"y":{"field":"m","type":"quantitative"}}}
   ]}
  ]}
 ],"spacing":0,"bounds":"flush"}
]
}
